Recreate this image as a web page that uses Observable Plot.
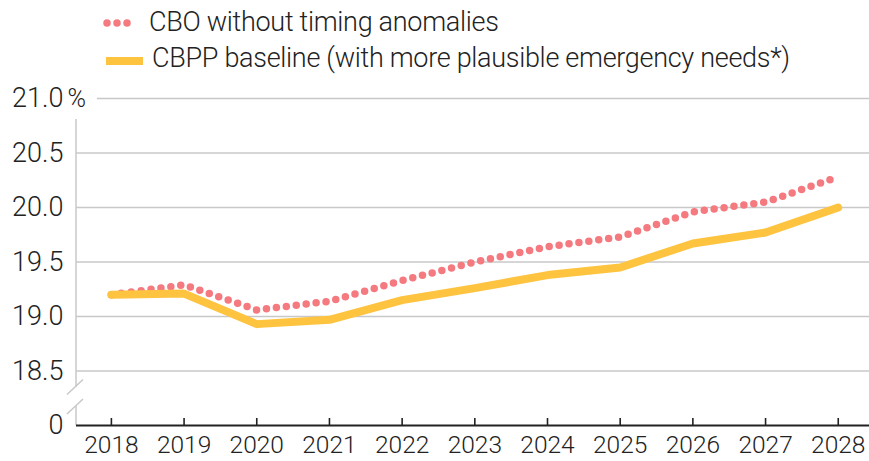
<!DOCTYPE html>
<html><head><meta charset="utf-8">
<script src="https://cdn.jsdelivr.net/npm/d3@7"></script>
<script src="https://cdn.jsdelivr.net/npm/@observablehq/plot@0.6"></script>
<style>
body{margin:0;background:#fff;font-family:Roboto,sans-serif;color:#222}
#legend{position:relative;height:80px;width:869px}
.lab{position:absolute;font-size:27px;line-height:28px;white-space:nowrap;letter-spacing:-0.3px;font-weight:300}
.sw{position:absolute}
#chart svg{display:block}
</style></head><body>
<div id="legend"></div>
<div id="chart"></div>
<script>
const years = [2018, 2019, 2020, 2021, 2022, 2023, 2024, 2025, 2026, 2027, 2028];
const cbo = [19.20, 19.29, 19.06, 19.14, 19.33, 19.50, 19.64, 19.73, 19.96, 20.05, 20.28];
const cbpp = [19.20, 19.21, 18.93, 18.97, 19.15, 19.26, 19.38, 19.45, 19.67, 19.77, 20.00];
const seriesNames = ["CBO without timing anomalies", "CBPP baseline (with more plausible emergency needs*)"];
const seriesColors = ["#F47A80", "#FEC33F"];
const yTicks = [18, 18.5, 19, 19.5, 20, 20.5, 21];
const yTickLabels = ["0", "18.5", "19.0", "19.5", "20.0", "20.5", "21.0"];
const gridValues = [18.5, 19, 19.5, 20, 20.5];

// legend
const legend = document.getElementById("legend");
legend.innerHTML = `
<svg class="sw" style="left:100px;top:15px" width="46" height="16">
  <line x1="7" y1="8" x2="37" y2="8" stroke="${seriesColors[0]}" stroke-width="7.5" stroke-linecap="round" stroke-dasharray="0 10"/>
</svg>
<div class="lab" style="left:149px;top:8px">${seriesNames[0]}</div>
<svg class="sw" style="left:100px;top:53px" width="50" height="16">
  <line x1="6" y1="8" x2="43" y2="8" stroke="${seriesColors[1]}" stroke-width="8"/>
</svg>
<div class="lab" style="left:152px;top:44px">${seriesNames[1]}</div>`;

const rows = years.flatMap((yr, i) => [
  {year: yr, value: cbo[i], series: seriesNames[0]},
  {year: yr, value: cbpp[i], series: seriesNames[1]}
]);

function axisDecor(index, scales, values, dimensions) {
  const x0 = dimensions.marginLeft;
  const yBase = scales.y(18);
  const y185 = scales.y(18.5);
  const yTop = scales.y(21) + 21;
  const g = d3.create("svg:g");
  const c1 = y185 + 16, c2 = yBase - 19;
  g.append("line").attr("x1", x0).attr("x2", x0).attr("y1", yTop).attr("y2", c1)
    .attr("stroke", "#c8c8c8").attr("stroke-width", 1.5);
  g.append("line").attr("x1", x0).attr("x2", x0).attr("y1", c2).attr("y2", yBase)
    .attr("stroke", "#c8c8c8").attr("stroke-width", 1.5);
  for (const c of [c1, c2]) {
    g.append("line").attr("x1", x0 - 9).attr("y1", c + 8).attr("x2", x0 + 7).attr("y2", c - 7)
      .attr("stroke", "#c8c8c8").attr("stroke-width", 1.5);
  }
  return g.node();
}

const chart = Plot.plot({
  width: 869,
  height: 381,
  marginTop: 18,
  marginBottom: 36,
  marginLeft: 76,
  marginRight: 0,
  style: {fontFamily: "Roboto, sans-serif", color: "#222", background: "#fff", fontWeight: 300},
  x: {domain: [2017.52, 2028.43], axis: null},
  y: {domain: [18, 21], axis: null},
  marks: [
    Plot.ruleY(gridValues, {stroke: "#c8c8c8", strokeWidth: 1.5}),
    Plot.ruleY([21], {stroke: "#c8c8c8", strokeWidth: 1.5, insetLeft: 21}),
    axisDecor,
    Plot.line(rows.filter(d => d.series === seriesNames[0]), {
      x: "year", y: "value", stroke: seriesColors[0], strokeWidth: 7.5,
      strokeLinecap: "round", strokeDasharray: "0 10"
    }),
    Plot.line(rows.filter(d => d.series === seriesNames[1]), {
      x: "year", y: "value", stroke: seriesColors[1], strokeWidth: 8,
      strokeLinecap: "round", strokeLinejoin: "round"
    }),
    Plot.ruleY([18], {stroke: "#222", strokeWidth: 2.2}),
    Plot.ruleX(years, {x: d => d, y1: 18, y2: 18, insetTop: -7, stroke: "#222", strokeWidth: 1.6}),
    Plot.text(years, {x: d => d, y: 18, text: d => String(d), dy: 20, fontSize: 24.5, lineAnchor: "middle", fill: "#222", fontWeight: 300}),
    Plot.text(yTicks, {frameAnchor: "left", y: d => d, text: (d, i) => yTickLabels[i], textAnchor: "end", dx: -13, fontSize: 27, lineAnchor: "middle", fill: "#222", fontWeight: 300}),
    Plot.text([21], {frameAnchor: "left", y: d => d, text: () => "%", textAnchor: "start", dx: -9, fontSize: 25, lineAnchor: "middle", fill: "#222", fontWeight: 300})
  ]
});
document.getElementById("chart").appendChild(chart);
</script>
</body></html>
